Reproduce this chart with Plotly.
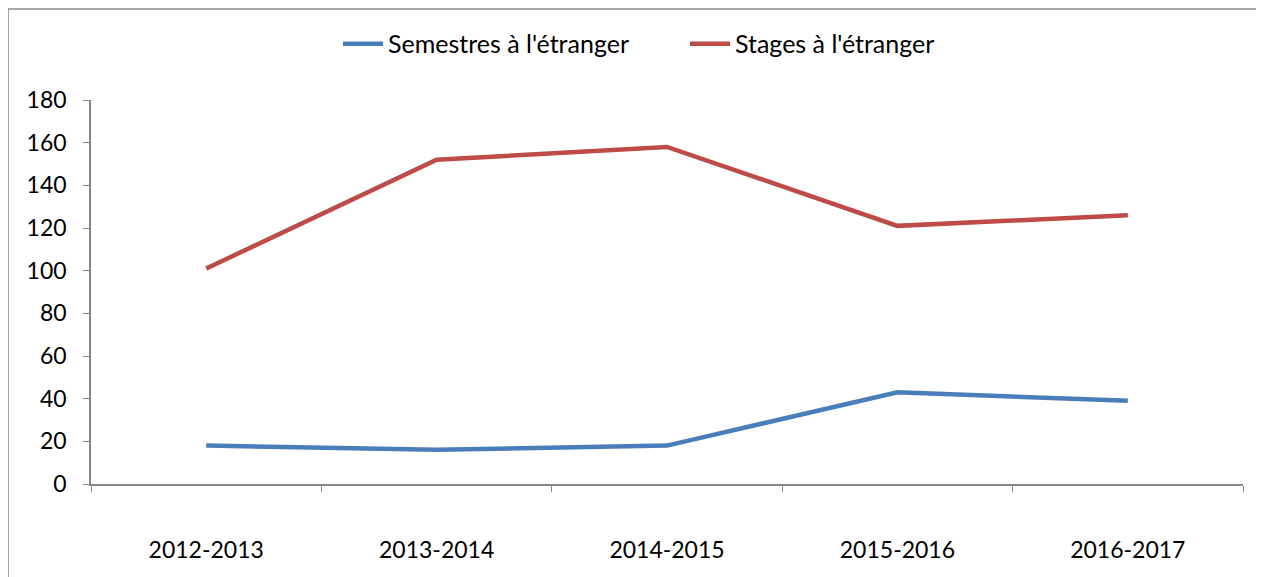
import plotly.graph_objects as go

years = ["2012-2013", "2013-2014", "2014-2015", "2015-2016", "2016-2017"]
semestres = [18, 16, 18, 43, 39]
stages = [101, 152, 158, 121, 126]

font = "Lato, 'Open Sans', sans-serif"
grey = "#868686"

fig = go.Figure()
fig.add_trace(go.Scatter(x=years, y=semestres, mode="lines", name="Semestres à l'étranger",
                         line=dict(color="#4a7ebb", width=4.5)))
fig.add_trace(go.Scatter(x=years, y=stages, mode="lines", name="Stages à l'étranger",
                         line=dict(color="#be4b48", width=4.5)))

fig.update_layout(
    width=1264, height=577,
    margin=dict(l=83, r=29, t=92, b=101),
    paper_bgcolor="white", plot_bgcolor="white",
    font=dict(family=font, size=23, color="black"),
    showlegend=True,
    legend=dict(orientation="h", x=0.5156, xanchor="center", y=1.146, yanchor="middle",
                font=dict(size=25), itemwidth=40, entrywidth=292, entrywidthmode="pixels"),
    xaxis=dict(type="category", tickson="boundaries", ticks="outside", ticklen=6,
               tickcolor=grey, showline=True, linecolor=grey, linewidth=1.5,
               showgrid=False, ticklabelstandoff=45, range=[-0.5, 4.5]),
    yaxis=dict(range=[0, 180], dtick=20, ticks="outside", ticklen=6, tickcolor=grey,
               showline=True, linecolor=grey, linewidth=1.5, showgrid=False,
               zeroline=False, ticklabelstandoff=12),
    shapes=[dict(type="rect", xref="paper", yref="paper", x0=-0.072, x1=1.03,
                 y0=-0.3, y1=1.237, line=dict(color="#8c8c8c", width=1.5), layer="below")],
)

fig.write_html("out.html")
